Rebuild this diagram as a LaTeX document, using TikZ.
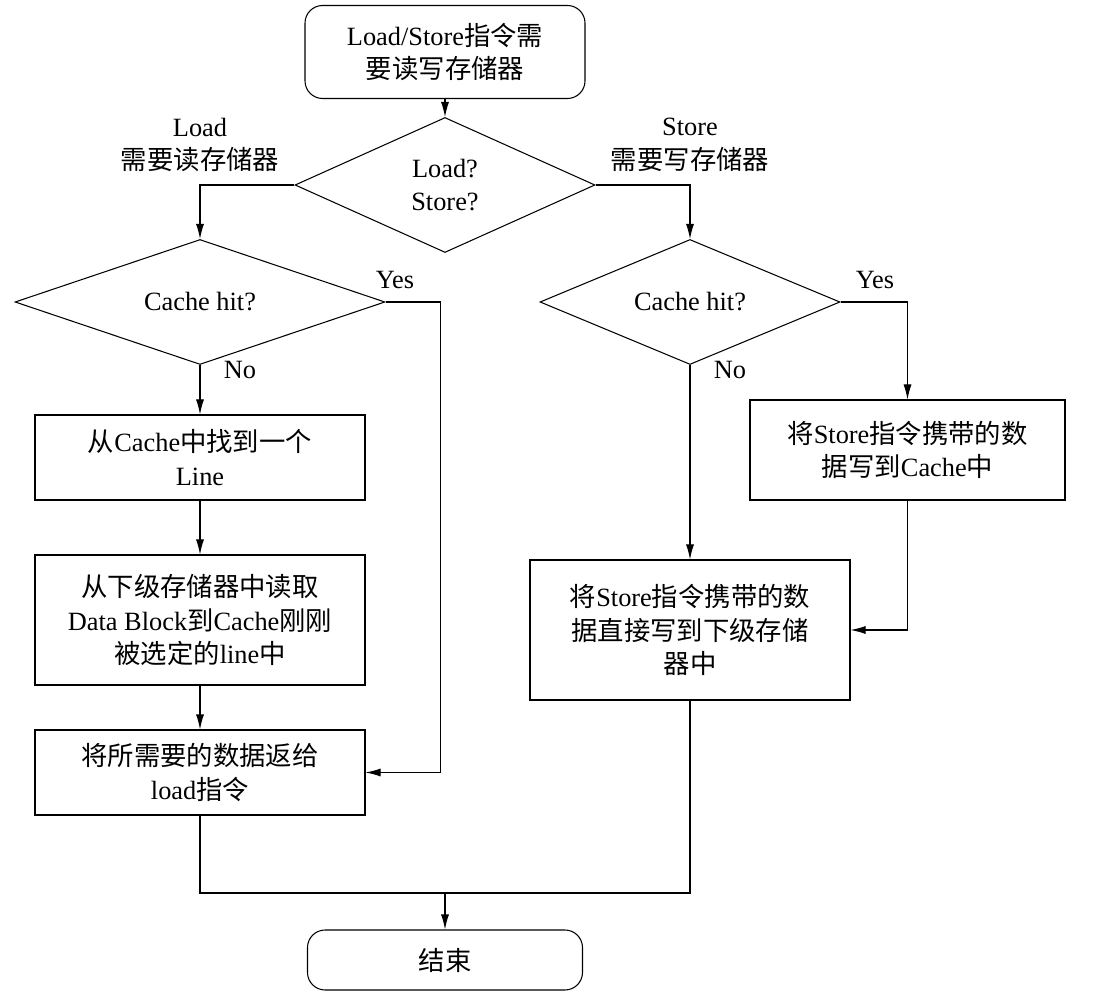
\documentclass[tikz,border=0pt]{standalone}
\usepackage{fontspec}
\setmainfont{Liberation Serif}
\newfontfamily\cjk{Noto Sans CJK SC}
\newcommand{\zh}[1]{{\cjk #1}}
\usetikzlibrary{calc,positioning,shapes.geometric,arrows.meta}

\begin{document}
\begin{tikzpicture}[font=\fontsize{15}{19}\selectfont,
  box/.style={draw,rectangle,align=center,inner sep=2pt},
  term/.style={draw,rectangle,rounded corners=10pt,align=center},
  dec/.style={draw,diamond,aspect=2.4,inner sep=0pt,align=center},
  arr/.style={-{Latex[length=3mm,width=1.6mm]}},
  line width=0.6pt]
\useasboundingbox (0,0) rectangle (22.08,-20.16);

\node[term,minimum width=5.6cm,minimum height=1.86cm] (start) at (8.9,-1.04) {Load/Store\zh{指令需}\\\zh{要读写存储器}};
\node[dec,minimum width=6cm,minimum height=2.7cm] (ls) at (8.9,-3.7) {Load?\\Store?};
\node[dec,minimum width=7.4cm,minimum height=2.5cm] (lhit) at (4,-6.04) {Cache hit?};
\node[dec,minimum width=6cm,minimum height=2.5cm] (shit) at (13.8,-6.04) {Cache hit?};

\node[box,minimum width=6.6cm,minimum height=1.7cm] (find) at (4,-9.15) {\zh{从}Cache\zh{中找到一个}\\Line};
\node[box,minimum width=6.6cm,minimum height=2.6cm] (read) at (4,-12.4) {\zh{从下级存储器中读取}\\Data Block\zh{到}Cache\zh{刚刚}\\\zh{被选定的}line\zh{中}};
\node[box,minimum width=6.6cm,minimum height=1.7cm] (ret) at (4,-15.45) {\zh{将所需要的数据返给}\\load\zh{指令}};
\node[box,minimum width=6.3cm,minimum height=2cm] (wcache) at (18.15,-9.0) {\zh{将}Store\zh{指令携带的数}\\\zh{据写到}Cache\zh{中}};
\node[box,minimum width=6.4cm,minimum height=2.8cm] (wmem) at (13.8,-12.6) {\zh{将}Store\zh{指令携带的数}\\\zh{据直接写到下级存储}\\\zh{器中}};
\node[term,minimum width=5.5cm,minimum height=1.2cm] (stop) at (8.9,-19.2) {\zh{结束}};
\coordinate (join) at (8.9,-17.86);

% labels
\node[align=center] (lload) at (4,-2.9) {Load\\\zh{需要读存储器}};
\node[align=center] (lstore) at (13.8,-2.9) {Store\\\zh{需要写存储器}};
\node (lyes) at (7.9,-5.6) {Yes};
\node (lno) at (4.8,-7.4) {No};
\node (syes) at (17.5,-5.6) {Yes};
\node (sno) at (14.6,-7.4) {No};

\draw[arr] (start) -- (ls);
\draw[arr] (ls.west) -| (lhit.north);
\draw[arr] (ls.east) -| (shit.north);
\draw[arr] (lhit) -- (find);
\draw[arr] (find) -- (read);
\draw[arr] (read) -- (ret);
\draw[arr] (lhit.east) -| ($(ret.east)+(1.5,0)$) -- (ret.east);
\draw[arr] (shit.east) -| (wcache.north);
\draw[arr] (shit) -- (wmem);
\draw[arr] (wcache.south) |- (wmem.east);
\draw (ret.south) |- (join);
\draw (wmem.south) |- (join);
\draw[arr] (join) -- (stop);
\end{tikzpicture}
\end{document}
